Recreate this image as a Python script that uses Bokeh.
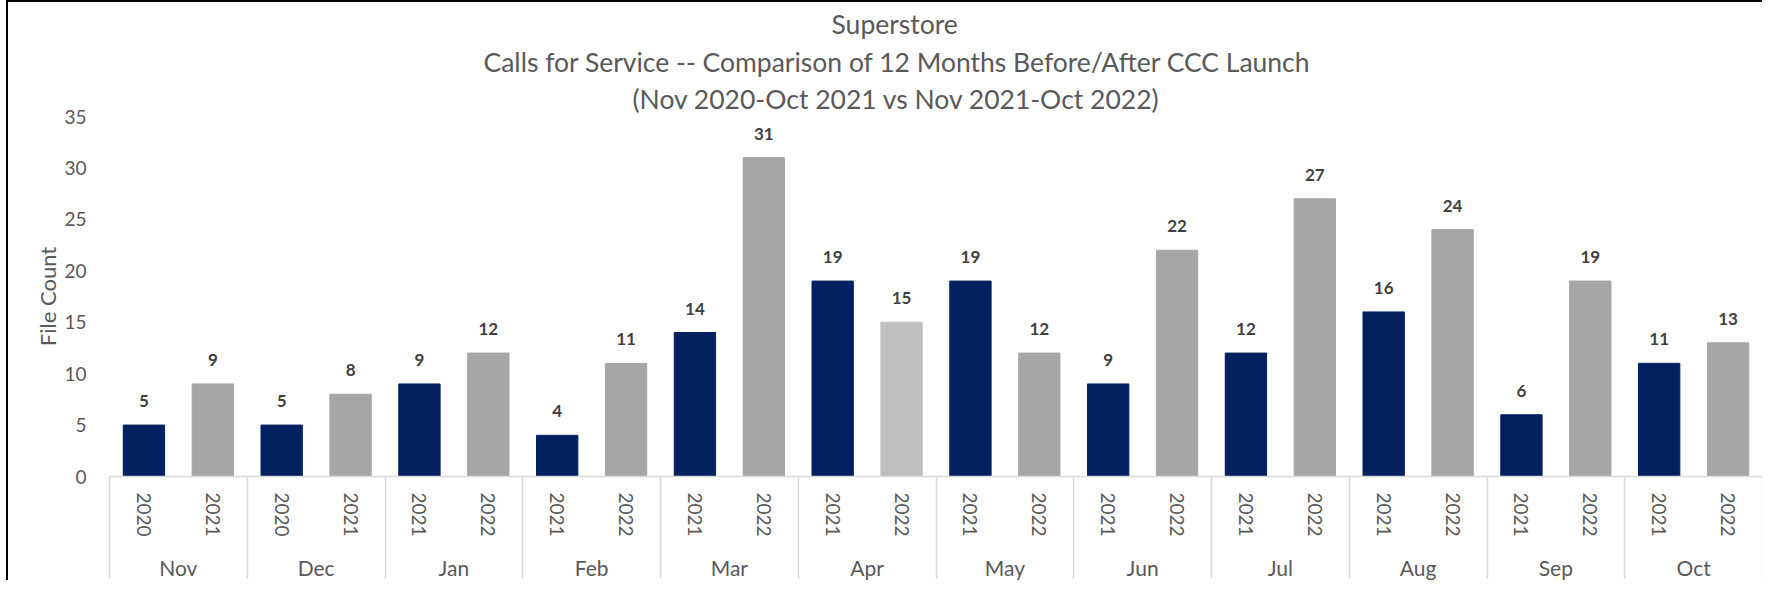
from bokeh.plotting import figure
from bokeh.models import (ColumnDataSource, Range1d, LinearAxis, FixedTicker,
                          LabelSet, Title)
from bokeh.core.properties import value
from bokeh.embed import file_html
from bokeh.resources import INLINE

# ---------------- data ----------------
months = ["Nov", "Dec", "Jan", "Feb", "Mar", "Apr", "May", "Jun", "Jul", "Aug", "Sep", "Oct"]
years_before = ["2020", "2020", "2021", "2021", "2021", "2021", "2021", "2021", "2021", "2021", "2021", "2021"]
years_after = ["2021", "2021", "2022", "2022", "2022", "2022", "2022", "2022", "2022", "2022", "2022", "2022"]
counts_before = [5, 5, 9, 4, 14, 19, 19, 9, 12, 16, 6, 11]
counts_after = [9, 8, 12, 11, 31, 15, 12, 22, 27, 24, 19, 13]
y_ticks = [0, 5, 10, 15, 20, 25, 30, 35]
title_lines = [
    "Superstore",
    "Calls for Service -- Comparison of 12 Months Before/After CCC Launch",
    "(Nov 2020-Oct 2021 vs Nov 2021-Oct 2022)",
]
highlight_month = "Apr"

# ---------------- styles ----------------
NAVY = "#002060"
GRAY = "#A6A6A6"
LIGHT_GRAY = "#BFBFBF"
TEXT = "#595959"
LABEL = "#404040"
SEP = "#D9D9D9"
FONT = "Lato"

# title left offsets (px from plot-area left) so each line is centred on the chart box
TITLE_OFFSETS = [722, 374, 523]
TITLE_STANDOFFS = [6, 2, 4]

n = len(months)
x_before = [2 * i + 0.5 for i in range(n)]
x_after = [2 * i + 1.5 for i in range(n)]
colors_after = [LIGHT_GRAY if m == highlight_month else GRAY for m in months]

src_before = ColumnDataSource(dict(x=x_before, y=counts_before,
                                   lbl=[str(v) for v in counts_before]))
src_after = ColumnDataSource(dict(x=x_after, y=counts_after, c=colors_after,
                                  lbl=[str(v) for v in counts_after]))

p = figure(width=1756, height=580, output_backend="svg", toolbar_location=None,
           x_range=Range1d(0, 2 * n), y_range=Range1d(0, 35),
           x_axis_type=None, y_axis_type=None,
           min_border_left=101, min_border_right=2,
           min_border_top=104, min_border_bottom=102)
p.outline_line_color = None
p.background_fill_color = "white"
p.border_fill_color = "white"
p.styles = {"border-left": "2px solid black", "border-top": "2px solid black",
            "margin-left": "6px"}

p.vbar(x="x", top="y", width=0.6, source=src_before, color=NAVY)
p.vbar(x="x", top="y", width=0.6, source=src_after, color="c")

for src in (src_before, src_after):
    p.add_layout(LabelSet(x="x", y="y", text="lbl", source=src, y_offset=24,
                          text_align="center", text_baseline="middle",
                          text_font=value(FONT), text_font_size="17px",
                          text_font_style="bold", text_color=LABEL))

# titles (innermost line added first)
for line, off, so in reversed(list(zip(title_lines, TITLE_OFFSETS, TITLE_STANDOFFS))):
    p.add_layout(Title(text=line, align="left", offset=off, standoff=so,
                       text_font=FONT, text_font_size="26.5px",
                       text_font_style="normal", text_color=TEXT), "above")

# y axis
yaxis = LinearAxis(ticker=FixedTicker(ticks=y_ticks), axis_label="File Count")
yaxis.axis_line_color = None
yaxis.major_tick_line_color = None
yaxis.minor_tick_line_color = None
yaxis.major_tick_out = 0
yaxis.major_label_standoff = 23
yaxis.major_label_text_font = FONT
yaxis.major_label_text_font_size = "19px"
yaxis.major_label_text_color = TEXT
yaxis.axis_label_text_font = FONT
yaxis.axis_label_text_font_size = "22px"
yaxis.axis_label_text_font_style = "normal"
yaxis.axis_label_text_color = TEXT
yaxis.axis_label_standoff = 0
p.add_layout(yaxis, "left")

# x axis: year labels; month separators drawn as long minor ticks hanging below
boundaries = [2 * i for i in range(n + 1)]
year_ticks = x_before + x_after
year_labels = dict(zip(x_before, years_before))
year_labels.update(dict(zip(x_after, years_after)))
xaxis = LinearAxis(ticker=FixedTicker(ticks=year_ticks, minor_ticks=boundaries))
xaxis.major_label_overrides = year_labels
xaxis.axis_line_color = SEP
xaxis.axis_line_width = 1.5
xaxis.major_tick_line_color = None
xaxis.major_tick_out = 0
xaxis.major_tick_in = 0
xaxis.minor_tick_line_color = SEP
xaxis.minor_tick_line_width = 1.5
xaxis.minor_tick_out = 0
xaxis.minor_tick_in = -102
xaxis.major_label_orientation = "vertical"
xaxis.major_label_standoff = 16
xaxis.major_label_text_font = FONT
xaxis.major_label_text_font_size = "19px"
xaxis.major_label_text_color = TEXT
p.add_layout(xaxis, "below")

# x axis: month labels
month_ticks = [2 * i + 1 for i in range(n)]
maxis = LinearAxis(ticker=FixedTicker(ticks=month_ticks, minor_ticks=[]))
maxis.major_label_overrides = dict(zip(month_ticks, months))
maxis.axis_line_color = None
maxis.major_tick_line_color = None
maxis.minor_tick_line_color = None
maxis.major_tick_out = 0
maxis.major_tick_in = 0
maxis.major_label_standoff = 15
maxis.major_label_text_line_height = 0.7
maxis.major_label_text_font = FONT
maxis.major_label_text_font_size = "21px"
maxis.major_label_text_color = TEXT
p.add_layout(maxis, "below")

open("out.html", "w").write(file_html(p, INLINE))
